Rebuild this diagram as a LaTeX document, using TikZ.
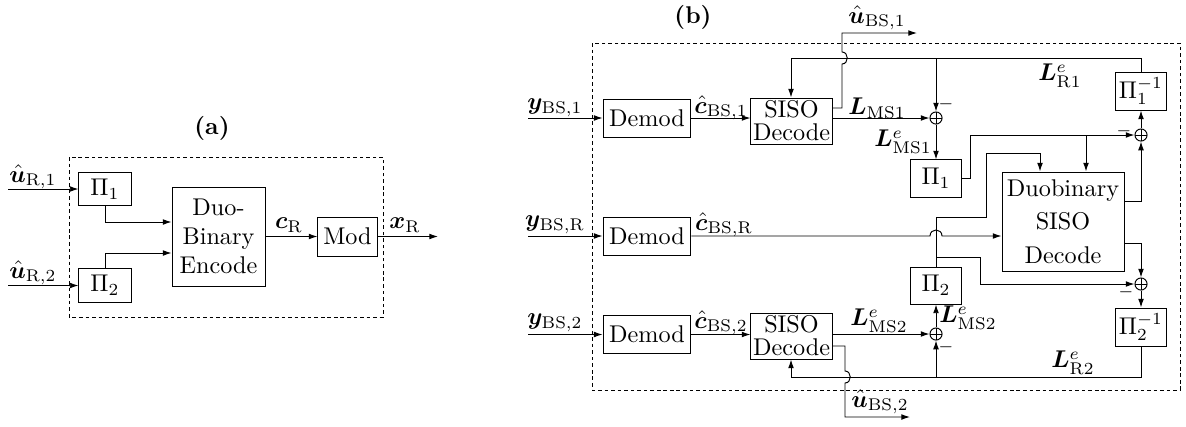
\documentclass[tikz,border=0pt]{standalone}
\usepackage{amsmath,amssymb,bm}
\usetikzlibrary{arrows.meta,calc}
\begin{document}
\begin{tikzpicture}[x=0.413pt,y=-0.413pt,
 blk/.style={draw, inner sep=0pt, align=center},
 arr/.style={-{Latex[length=3.6pt,width=2.4pt]}},
 sumn/.style={draw, circle, inner sep=0pt, minimum size=5pt,
   path picture={\draw (path picture bounding box.north) -- (path picture bounding box.south)
     (path picture bounding box.west) -- (path picture bounding box.east);}},
 dashbox/.style={draw, dash pattern=on 1.5pt off 1.2pt},
 lbl/.style={inner sep=0pt}]
\useasboundingbox (0,0) rectangle (1186,426);

% ---------------- (a) ----------------
\node[lbl] (ta) at (212,128) {\textbf{(a)}};
\draw[dashbox] (69,157) rectangle (383,317);
\node[blk, minimum width=21.5pt, minimum height=14pt] (pa1) at (105,189) {$\Pi_1$};
\node[blk, minimum width=21.5pt, minimum height=14pt] (pa2) at (105,285.5) {$\Pi_2$};
\node[blk, minimum width=38.4pt, minimum height=40.9pt] (enc) at (218.5,236.5) {Duo-\\Binary\\Encode};
\node[blk, minimum width=24.4pt, minimum height=16.1pt] (mod) at (347.5,236.5) {Mod};
\coordinate (ina1) at (8,189);
\coordinate (ina2) at (8,285.5);
\coordinate (outa) at (438,236.5);
\draw[arr] (ina1) -- (pa1.west);
\draw[arr] (ina2) -- (pa2.west);
\draw[arr] (pa1.south) |- ($(enc.west)+(0,-14.5)$);
\draw[arr] (pa2.north) |- ($(enc.west)+(0,16.5)$);
\draw[arr] (enc.east) -- (mod.west);
\draw[arr] (mod.east) -- (outa);
\node[lbl] at (33,177) {$\hat{\bm{u}}_{\mathrm{R},1}$};
\node[lbl] at (33,273) {$\hat{\bm{u}}_{\mathrm{R},2}$};
\node[lbl] at (289,225) {$\bm{c}_{\mathrm{R}}$};
\node[lbl] at (405,225) {$\bm{x}_{\mathrm{R}}$};

% ---------------- (b) ----------------
\node[lbl] (tb) at (693,17) {\textbf{(b)}};
\draw[dashbox] (592,43) rectangle (1180,390);

\node[blk, minimum width=36.3pt, minimum height=15.7pt] (dm1) at (647,118) {Demod};
\node[blk, minimum width=36.3pt, minimum height=15.7pt] (dmr) at (647,236) {Demod};
\node[blk, minimum width=36.3pt, minimum height=15.7pt] (dm2) at (647,334.5) {Demod};
\node[blk, minimum width=33.5pt, minimum height=19pt] (s1) at (791.5,121) {SISO\\[-2.5pt]Decode};
\node[blk, minimum width=33.5pt, minimum height=19pt] (s2) at (791.5,336) {SISO\\[-2.5pt]Decode};
\node[blk, minimum width=21.1pt, minimum height=15.3pt] (pb1) at (936,178.5) {$\Pi_1$};
\node[blk, minimum width=21.1pt, minimum height=15.3pt] (pb2) at (936,285.5) {$\Pi_2$};
\node[blk, minimum width=21.1pt, minimum height=15.7pt] (pi1) at (1141,91) {$\Pi_1^{-1}$};
\node[blk, minimum width=21.1pt, minimum height=15.7pt] (pi2) at (1141,327) {$\Pi_2^{-1}$};
\node[blk, minimum width=50.4pt, minimum height=40.9pt] (duo) at (1063,221.5) {Duobinary\\[1.8pt]SISO\\[1.8pt]Decode};
\node[sumn] (a1) at (936,118) {};
\node[sumn] (a2) at (936,334) {};
\node[sumn] (a3) at (1141,135) {};
\node[sumn] (a4) at (1141,284) {};

\coordinate (in1) at (528,118);
\coordinate (inr) at (528,236);
\coordinate (in2) at (528,334.5);
\coordinate (o1) at (917,33);
\coordinate (o2) at (910,417);

% inputs
\draw[arr] (in1) -- (dm1.west);
\draw[arr] (inr) -- (dmr.west);
\draw[arr] (in2) -- (dm2.west);
\draw[arr] (dm1.east) -- (s1.west |- dm1.east);
\draw[arr] (dm2.east) -- (s2.west |- dm2.east);

% SISO1 outputs
\draw[arr] (s1.east |- 0,108) -- (842,108) -- (842,64) .. controls (849,64) and (849,52) .. (842,52) -- (842,33) -- (o1);
\draw[arr] (s1.east |- a1.west) -- (a1.west);
% top feedback
\draw[arr] (pi1.north) -- (1141,58) -- (791,58) -- (s1.north -| 791,0);
\draw[arr] (936,58) -- (a1.north);
\draw[arr] (a1.south) -- (pb1.north);
% Pi1 out
\draw[arr] (pb1.east) -- (970,178.5) -- (970,135) -- (a3.west);
\draw[arr] (1086,135) -- (duo.north -| 1086,0);
\draw[arr] (duo.east |- 0,201) -- (1141,201) -- (a3.south);
\draw[arr] (a3.north) -- (pi1.south);
\draw[arr] (duo.east |- 0,243) -- (1141,243) -- (a4.north);
\draw[arr] (a4.south) -- (pi2.north);
% bottom feedback
\draw[arr] (pi2.south) -- (1141,377) -- (791,377) -- (s2.south -| 791,0);
\draw[arr] (936,377) -- (a2.south);
\draw[arr] (s2.east |- a2.west) -- (a2.west);
\draw[arr] (a2.north) -- (pb2.south);
% Pi2 out
\draw[arr] (pb2.north) -- (936,217) -- (986,217) -- (986,153) -- (1040,153) -- (duo.north -| 1040,0);
\draw[arr] (936,257) -- (980,257) -- (980,284) -- (a4.west);
% c_BS,R with hump
\draw[arr] (dmr.east) -- (930,236) .. controls (930,228) and (942,228) .. (942,236) -- (duo.west |- dmr.east);
% SISO2 lower output
\draw[arr] (s2.east |- 0,346) -- (845,346) -- (845,371) .. controls (852,371) and (852,383) .. (845,383) -- (845,417) -- (o2);

% minus signs
\node[lbl] at (946,104) {$\scriptstyle -$};
\node[lbl] at (1124,131) {$\scriptstyle -$};
\node[lbl] at (1126,292) {$\scriptstyle -$};
\node[lbl] at (946,347) {$\scriptstyle -$};

% labels
\node[lbl] at (555,108) {$\bm{y}_{\mathrm{BS},1}$};
\node[lbl] at (555,225) {$\bm{y}_{\mathrm{BS},\mathrm{R}}$};
\node[lbl] at (555,323) {$\bm{y}_{\mathrm{BS},2}$};
\node[lbl] at (721,108) {$\hat{\bm{c}}_{\mathrm{BS},1}$};
\node[lbl] at (724,225) {$\hat{\bm{c}}_{\mathrm{BS},\mathrm{R}}$};
\node[lbl] at (721,323) {$\hat{\bm{c}}_{\mathrm{BS},2}$};
\node[lbl] at (877,18) {$\hat{\bm{u}}_{\mathrm{BS},1}$};
\node[lbl] at (880,402) {$\hat{\bm{u}}_{\mathrm{BS},2}$};
\node[lbl] at (877,108) {$\bm{L}_{\mathrm{MS1}}$};
\node[lbl] at (903,142) {$\bm{L}^{e}_{\mathrm{MS1}}$};
\node[lbl] at (1060,76) {$\bm{L}^{e}_{\mathrm{R1}}$};
\node[lbl] at (879,321) {$\bm{L}^{e}_{\mathrm{MS2}}$};
\node[lbl] at (968,318) {$\bm{L}^{e}_{\mathrm{MS2}}$};
\node[lbl] at (1073,363) {$\bm{L}^{e}_{\mathrm{R2}}$};
\end{tikzpicture}
\end{document}
